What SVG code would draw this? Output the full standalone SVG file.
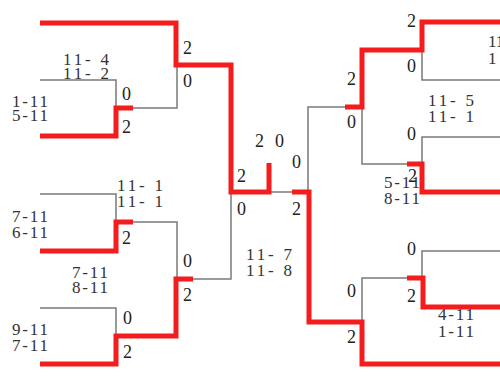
<svg xmlns="http://www.w3.org/2000/svg" width="500" height="378" viewBox="0 0 500 378">
<style>
.r{fill:none;stroke:#f41c1c;stroke-width:5;stroke-linejoin:miter;stroke-linecap:butt}
.g{fill:none;stroke:#7a7a7a;stroke-width:1.5}
.w{font-family:"Liberation Serif","Times New Roman",serif;font-size:18px;fill:#222}
.s{font-family:"Liberation Serif","Times New Roman",serif;font-size:17px;fill:#333}
</style>
<rect width="500" height="378" fill="#fff"/>
<g id="connectors">
<path class="g" d="M40,80 H116 V108"/>
<path class="g" d="M133,108 H177 V65"/>
<path class="g" d="M40,194 H116 V222"/>
<path class="g" d="M133,222 H177 V279"/>
<path class="g" d="M193,279 H231 V192"/>
<path class="g" d="M40,308 H116 V336"/>
<path class="g" d="M269,192 H292"/>
<path class="g" d="M308,192 V107 H345"/>
<path class="g" d="M362,107 V164 H407"/>
<path class="g" d="M422,50 V80 H500"/>
<path class="g" d="M422,164 V137 H500"/>
<path class="g" d="M362,322 V278 H407"/>
<path class="g" d="M422,278 V251 H500"/>
<path class="r" d="M40,23 H176 V65 H231 V192 H269 V163"/>
<path class="r" d="M40,136 H116 V108 H133"/>
<path class="r" d="M40,251 H116 V222 H133"/>
<path class="r" d="M40,364 H116 V336 H176 V279 H193"/>
<path class="r" d="M292,192 H309 V322 H362 V364 H500"/>
<path class="r" d="M345,107 H362 V50 H422 V22 H500"/>
<path class="r" d="M407,164 H422 V192 H500"/>
<path class="r" d="M407,278 H423 V307 H500"/>
</g>
<g id="m-left-r1a">
<text class="s" x="63" y="65" textLength="46" lengthAdjust="spacing">11- 4</text>
<text class="s" x="63" y="79" textLength="46" lengthAdjust="spacing">11- 2</text>
<text class="s" x="12" y="107" textLength="36" lengthAdjust="spacing">1-11</text>
<text class="s" x="12" y="121" textLength="36" lengthAdjust="spacing">5-11</text>
<text class="w" x="122" y="100">0</text>
<text class="w" x="122" y="133">2</text>
</g>
<g id="m-left-r2a">
<text class="w" x="183" y="54">2</text>
<text class="w" x="183" y="87">0</text>
</g>
<g id="m-left-r1b">
<text class="s" x="117" y="191" textLength="46" lengthAdjust="spacing">11- 1</text>
<text class="s" x="117" y="207" textLength="46" lengthAdjust="spacing">11- 1</text>
<text class="s" x="12" y="222" textLength="36" lengthAdjust="spacing">7-11</text>
<text class="s" x="12" y="238" textLength="36" lengthAdjust="spacing">6-11</text>
<text class="w" x="122" y="244">2</text>
</g>
<g id="m-left-r2b">
<text class="s" x="72" y="278" textLength="36" lengthAdjust="spacing">7-11</text>
<text class="s" x="72" y="293" textLength="36" lengthAdjust="spacing">8-11</text>
<text class="w" x="183" y="267">0</text>
<text class="w" x="183" y="301">2</text>
</g>
<g id="m-left-r1c">
<text class="s" x="12" y="335" textLength="36" lengthAdjust="spacing">9-11</text>
<text class="s" x="12" y="351" textLength="36" lengthAdjust="spacing">7-11</text>
<text class="w" x="123" y="324">0</text>
<text class="w" x="123" y="358">2</text>
</g>
<g id="m-left-semi">
<text class="w" x="237" y="182">2</text>
<text class="w" x="237" y="215">0</text>
<text class="s" x="246" y="260" textLength="46" lengthAdjust="spacing">11- 7</text>
<text class="s" x="246" y="276" textLength="46" lengthAdjust="spacing">11- 8</text>
</g>
<g id="m-final">
<text class="w" x="255" y="147">2</text>
<text class="w" x="275" y="147">0</text>
</g>
<g id="m-right-semi">
<text class="w" x="292" y="168">0</text>
<text class="w" x="292" y="215">2</text>
</g>
<g id="m-right-r2a">
<text class="w" x="347" y="85">2</text>
<text class="w" x="347" y="128">0</text>
<text class="s" x="428" y="106" textLength="46" lengthAdjust="spacing">11- 5</text>
<text class="s" x="428" y="122" textLength="46" lengthAdjust="spacing">11- 1</text>
</g>
<g id="m-right-r1a">
<text class="w" x="407" y="27">2</text>
<text class="w" x="407" y="72">0</text>
<text class="s" x="488" y="47">11</text>
<text class="s" x="488" y="64">1</text>
</g>
<g id="m-right-r1b">
<text class="w" x="407" y="140">0</text>
<text class="s" x="384" y="188" textLength="36" lengthAdjust="spacing">5-11</text>
<text class="s" x="384" y="204" textLength="36" lengthAdjust="spacing">8-11</text>
<text class="w" x="408" y="182">2</text>
</g>
<g id="m-right-r2b">
<text class="w" x="347" y="297">0</text>
<text class="w" x="347" y="343">2</text>
</g>
<g id="m-right-r1c">
<text class="w" x="407" y="255">0</text>
<text class="w" x="407" y="302">2</text>
<text class="s" x="438" y="320" textLength="36" lengthAdjust="spacing">4-11</text>
<text class="s" x="438" y="337" textLength="36" lengthAdjust="spacing">1-11</text>
</g>
</svg>
